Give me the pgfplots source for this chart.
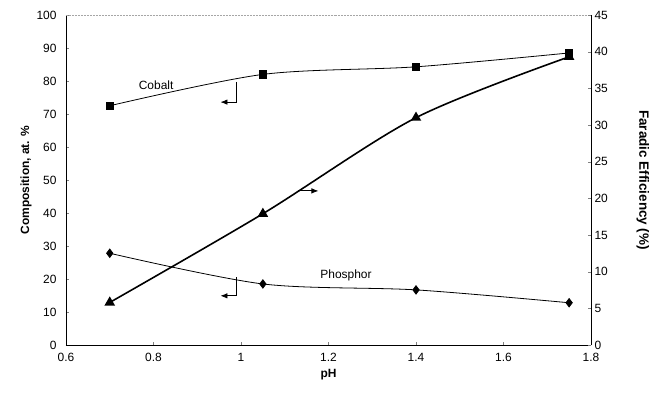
\documentclass[border=0pt]{standalone}
\usepackage{pgfplots}
\pgfplotsset{compat=1.18}
\usepackage{fontspec}
\setmainfont{Liberation Sans}
\usetikzlibrary{arrows.meta}
\begin{document}
\begin{tikzpicture}
\pgfplotsset{
  every axis/.append style={
    scale only axis, width=525bp, height=330bp,
    xmin=0.6, xmax=1.8,
    tick align=inside, major tick length=3bp,
    /pgf/number format/assume math mode=true,
    tick label style={font=\fontsize{12}{14}\selectfont},
    label style={font=\bfseries\fontsize{12}{14}\selectfont},
    axis line style={line width=0.8pt},
  }
}
\begin{axis}[
  axis x line*=bottom, axis y line*=left,
  ymin=0, ymax=100, ytick={0,10,...,100},
  xtick={0.6,0.8,1,1.2,1.4,1.6,1.8},
  xticklabels={0.6,0.8,1,1.2,1.4,1.6,1.8},
  xticklabel style={yshift=-5bp},
  yticklabel style={xshift=-6bp},
  xlabel={pH}, ylabel={Composition, at. \%},
  xlabel style={yshift=0bp},
  ylabel style={yshift=-2bp},
]
% Cobalt
\addplot[black, line width=0.8pt, smooth, mark=square*, mark size=3.6bp]
  coordinates {(0.7,72.5) (1.05,82.0) (1.4,84.3) (1.75,88.5)};
% Phosphor
\addplot[black, line width=0.8pt, smooth, mark=diamond*, mark size=4.2bp]
  coordinates {(0.7,27.8) (1.05,18.5) (1.4,16.7) (1.75,12.8)};
% arrows
\addplot[black, line width=0.8pt, mark=none, -{Latex[length=7bp,width=5.5bp]}]
  coordinates {(0.99,79.7) (0.99,73.6) (0.953,73.6)};
\addplot[black, line width=0.8pt, mark=none, -{Latex[length=7bp,width=5.5bp]}]
  coordinates {(0.99,20.6) (0.99,14.9) (0.953,14.9)};
\addplot[black, line width=0.8pt, mark=none, -{Latex[length=7bp,width=5.5bp]}]
  coordinates {(1.13,46.7) (1.177,46.7)};
\node[font=\fontsize{12}{14}\selectfont] at (axis cs:0.806,78.8) {Cobalt};
\node[font=\fontsize{12}{14}\selectfont] at (axis cs:1.24,21.0) {Phosphor};
\draw[gray!70, line width=0.5pt, densely dotted] (rel axis cs:0,1) -- (rel axis cs:1,1);
\end{axis}
\begin{axis}[
  axis x line=none, axis y line*=right,
  ymin=0, ymax=45, ytick={0,5,...,45},
  ylabel={Faradic Efficiency (\%)},
  ylabel style={rotate=180, yshift=22bp, font=\bfseries\fontsize{13.5}{15}\selectfont},
]
\addplot[black, line width=1.6pt, smooth, mark=triangle*, mark size=4.5bp]
  coordinates {(0.7,5.8) (1.05,17.9) (1.4,31.0) (1.75,39.3)};
\end{axis}
\path[use as bounding box] (-66bp,-49bp) rectangle (596bp,345bp);
\end{tikzpicture}
\end{document}
